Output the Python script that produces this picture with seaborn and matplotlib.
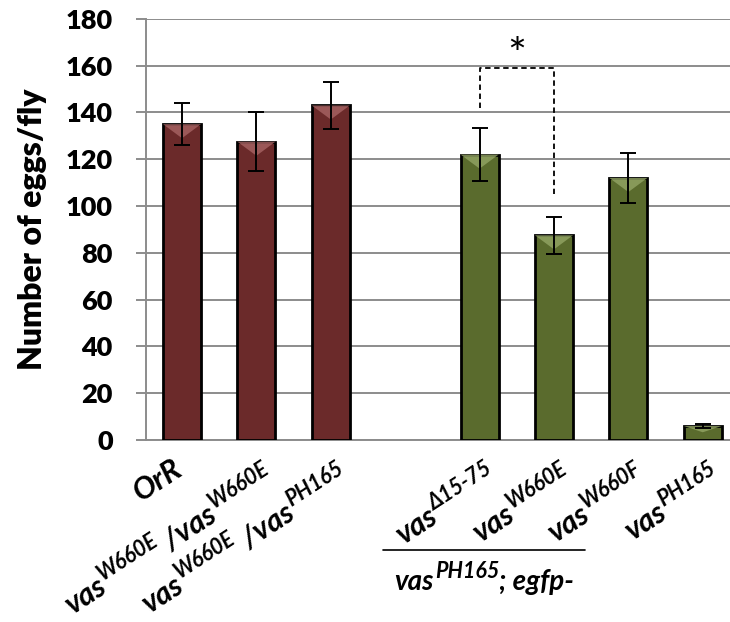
import numpy as np
import pandas as pd
import seaborn as sns
import matplotlib.pyplot as plt
from matplotlib import transforms
from matplotlib.patches import Polygon

# data
genotypes = ["OrR", "W660E/W660E", "W660E/PH165", "d15-75", "W660E", "W660F", "PH165"]
groups = ["control", "control", "control", "egfp", "egfp", "egfp", "egfp"]
eggs = [135, 127.5, 143, 122, 87.5, 112, 6]
err = [9, 12.5, 10, 11.5, 8, 10.5, 1]
# tick labels as (text, is_superscript) pieces
label_parts = {
    "OrR": [("OrR", False)],
    "W660E/W660E": [("vas", False), ("W660E", True), (" /vas", False), ("W660E", True)],
    "W660E/PH165": [("vas", False), ("W660E", True), (" /vas", False), ("PH165", True)],
    "d15-75": [("vas", False), ("Δ15-75", True)],
    "W660E": [("vas", False), ("W660E", True)],
    "W660F": [("vas", False), ("W660F", True)],
    "PH165": [("vas", False), ("PH165", True)],
}
group_label = [("vas", False), ("PH165", True), ("; egfp-", False)]
group_colors = {"control": "#6B2A2A", "egfp": "#5A6B2D"}
bevel_colors = {"control": "#A86464", "egfp": "#93A565"}

sns.set_style("white")
plt.rcParams["font.family"] = ["Lato", "DejaVu Sans"]
plt.rcParams["text.color"] = "black"
plt.rcParams["axes.labelcolor"] = "black"

df = pd.DataFrame({"genotype": genotypes, "group": groups, "eggs": eggs, "err": err})
order = genotypes[:3] + ["gap"] + genotypes[3:]

fig = plt.figure(figsize=(7.3, 6.22), dpi=100)
ax = fig.add_axes([0.2, 0.2926, 0.8, 0.677])

sns.barplot(data=df, x="genotype", y="eggs", hue="group", palette=group_colors,
            order=order, dodge=False, width=0.51, edgecolor="black", linewidth=2,
            saturation=1, legend=False, zorder=3, ax=ax)

# light bevel at the top of each bar, taken from the bar patches
ctrl_rgb = plt.matplotlib.colors.to_rgb(group_colors["control"])
for bar in ax.patches:
    h = bar.get_height()
    if not np.isfinite(h) or h <= 0:
        continue
    x0, w = bar.get_x(), bar.get_width()
    d = min(6, h * 0.45)
    grp = "control" if np.allclose(bar.get_facecolor()[:3], ctrl_rgb) else "egfp"
    ax.add_patch(Polygon([(x0, h), (x0 + w, h), (x0 + w * 0.5, h - d)], closed=True,
                         facecolor=bevel_colors[grp], edgecolor="none", alpha=0.8,
                         zorder=3.5))

pos = [order.index(g) for g in df["genotype"]]
ax.errorbar(pos, df["eggs"], yerr=df["err"], fmt="none", ecolor="black",
            elinewidth=1.4, capsize=5.5, capthick=1.4, zorder=4)

ax.set_ylim(0, 180)
ax.set_xlim(-0.484, 7.366)
ax.set_yticks(np.arange(0, 181, 20))
ax.yaxis.grid(True, color="#8c8c8c", linewidth=1.4, zorder=0)
ax.set_axisbelow(True)
for s in ["top", "right"]:
    ax.spines[s].set_visible(False)
for s in ["left", "bottom"]:
    ax.spines[s].set_color("#8c8c8c")
    ax.spines[s].set_linewidth(1.4)
ax.tick_params(axis="y", which="major", left=True, length=7, width=1.4,
               color="#8c8c8c", labelcolor="black", pad=17, labelsize=19.5)
for lab in ax.get_yticklabels():
    lab.set_fontweight("heavy")
ax.set_xticks(range(len(order)))
ax.set_xticklabels([])
ax.tick_params(axis="x", bottom=False)
ax.set_xlabel("")
ax.set_ylabel("Number of eggs/fly", fontsize=23, fontweight="heavy")
ax.yaxis.set_label_coords(-0.17, 0.5)

# x labels drawn piece by piece so the superscripts sit like in the original
base_font = dict(fontsize=22, fontweight="bold", fontstyle="italic")
sup_font = dict(fontsize=15.5, fontweight="bold", fontstyle="italic")
sup_raise = 12
renderer = fig.canvas.get_renderer()
trans = transforms.blended_transform_factory(ax.transData, ax.transAxes)


def text_width(s, props):
    t = fig.text(0, 0, s, **props)
    w = t.get_window_extent(renderer).width
    t.remove()
    return w


def draw_pieces(parts, x, y, theta, anchor, align, font_base=base_font):
    th = np.deg2rad(theta)
    u = np.array([np.cos(th), np.sin(th)])
    n = np.array([-np.sin(th), np.cos(th)])
    widths = []
    for s, sup in parts:
        gap = 1.5 if sup else 0
        widths.append(gap + text_width(s, sup_font if sup else font_base))
    total = sum(widths)
    a = np.array(anchor, dtype=float)
    start = a - total * u if align == "right" else a - total / 2 * u
    cum = 0
    for (s, sup), w in zip(parts, widths):
        gap = 1.5 if sup else 0
        p = start + (cum + gap) * u + (sup_raise * n if sup else 0)
        tr = transforms.offset_copy(trans, fig=fig, x=p[0], y=p[1], units="dots")
        ax.text(x, y, s, transform=tr, rotation=theta, rotation_mode="anchor",
                ha="left", va="baseline", clip_on=False,
                **(sup_font if sup else font_base))
        cum += w


for g in genotypes:
    parts = label_parts[g]
    anchor = (21, -42) if parts[-1][1] else (2, -34)
    draw_pieces(parts, order.index(g), 0, 33, anchor, "right")

# significance bracket
i4, i5 = order.index("d15-75"), order.index("W660E")
ax.plot([i4, i4, i5, i5], [142, 159, 159, 105], ls=(0, (3, 2)), color="black",
        lw=1.3, zorder=5)
ax.text((i4 + i5) / 2, 164, "*", ha="center", va="center", fontsize=32)

# group label under the egfp bars
line_x = [i4 - 1.297, i5 + 0.419]
line_y = -0.261
ax.plot(line_x, [line_y, line_y], color="black", lw=1.2, transform=trans, clip_on=False)
draw_pieces(group_label, sum(line_x) / 2, line_y, 0, (0, -40), "center",
            font_base=dict(fontsize=20, fontweight="bold", fontstyle="italic"))

fig.savefig("out.png", dpi=100)
